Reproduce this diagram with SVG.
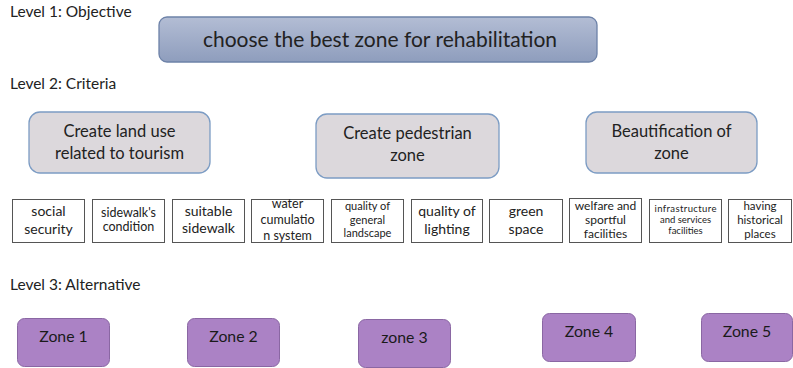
<svg xmlns="http://www.w3.org/2000/svg" width="793" height="368" viewBox="0 0 793 368">
<defs>
<linearGradient id="objGrad" x1="0" y1="0" x2="0" y2="1">
<stop offset="0" stop-color="#b3bdd4"/>
<stop offset="1" stop-color="#8e9dbd"/>
</linearGradient>
<style>
text{font-family:Lato,"Liberation Sans",sans-serif;fill:#222;}
.lvl{font-size:15.5px;}
.obj{fill:url(#objGrad);stroke:#6d82a8;stroke-width:1.3;}
.crit{fill:#dcd8dc;stroke:#7c9cc4;stroke-width:1.3;}
.sub{fill:#fff;stroke:#555;stroke-width:1;}
.zone{fill:#ab82c5;stroke:#8a67a3;stroke-width:1;}
.c{text-anchor:middle;}
.ct{font-size:16.5px;}
.zt{font-size:15.8px;fill:#1a1a1a;}
</style>
</defs>
<text class="lvl" x="10" y="17">Level 1: Objective</text>
<text class="lvl" x="10" y="89">Level 2: Criteria</text>
<text class="lvl" x="10" y="290">Level 3: Alternative</text>

<g id="objective">
<rect class="obj" x="159" y="17" width="438" height="45" rx="8"/>
<text class="c" x="380" y="47" font-size="21">choose the best zone for rehabilitation</text>
</g>

<g id="crit1">
<rect class="crit" x="29" y="112" width="181" height="61" rx="11"/>
<text class="c ct" x="119.5" y="137">Create land use</text>
<text class="c ct" x="119.5" y="159">related to tourism</text>
</g>
<g id="crit2">
<rect class="crit" x="316" y="114" width="183" height="64" rx="11"/>
<text class="c ct" x="407.5" y="139">Create pedestrian</text>
<text class="c ct" x="407.5" y="161">zone</text>
</g>
<g id="crit3">
<rect class="crit" x="586" y="112" width="171" height="61" rx="11"/>
<text class="c ct" x="671.5" y="137">Beautification of</text>
<text class="c ct" x="671.5" y="159">zone</text>
</g>

<g id="sub1">
<rect class="sub" x="12.5" y="199.5" width="72" height="43"/>
<text class="c" x="48.5" y="216" font-size="14">social</text>
<text class="c" x="48.5" y="234" font-size="14">security</text>
</g>
<g id="sub2">
<rect class="sub" x="92.5" y="199.5" width="72" height="43"/>
<text class="c" x="128.5" y="217" font-size="12.5">sidewalk's</text>
<text class="c" x="128.5" y="231" font-size="12.5">condition</text>
</g>
<g id="sub3">
<rect class="sub" x="172.5" y="199.5" width="72" height="43"/>
<text class="c" x="208.5" y="216" font-size="14">suitable</text>
<text class="c" x="208.5" y="233" font-size="14">sidewalk</text>
</g>
<g id="sub4">
<rect class="sub" x="251.5" y="199.5" width="72" height="43"/>
<text class="c" x="287.5" y="208" font-size="12.5">water</text>
<text class="c" x="287.5" y="224" font-size="12.5">cumulatio</text>
<text class="c" x="287.5" y="240" font-size="12.5">n system</text>
</g>
<g id="sub5">
<rect class="sub" x="331.5" y="199.5" width="72" height="43"/>
<text class="c" x="367.5" y="210" font-size="11">quality of</text>
<text class="c" x="367.5" y="224" font-size="11">general</text>
<text class="c" x="367.5" y="237" font-size="11">landscape</text>
</g>
<g id="sub6">
<rect class="sub" x="411.5" y="199.5" width="71" height="43"/>
<text class="c" x="447" y="216" font-size="14">quality of</text>
<text class="c" x="447" y="234" font-size="14">lighting</text>
</g>
<g id="sub7">
<rect class="sub" x="489.5" y="199.5" width="73" height="43"/>
<text class="c" x="526" y="216" font-size="14">green</text>
<text class="c" x="526" y="234" font-size="14">space</text>
</g>
<g id="sub8">
<rect class="sub" x="569.5" y="198.5" width="72" height="44"/>
<text class="c" x="605.5" y="210" font-size="12">welfare and</text>
<text class="c" x="605.5" y="224" font-size="12">sportful</text>
<text class="c" x="605.5" y="238" font-size="12">facilities</text>
</g>
<g id="sub9">
<rect class="sub" x="649.5" y="199.5" width="72" height="43"/>
<text class="c" x="685.5" y="212" font-size="9.5" textLength="62">infrastructure</text>
<text class="c" x="685.5" y="223" font-size="9.5">and services</text>
<text class="c" x="685.5" y="234" font-size="9.5">facilities</text>
</g>
<g id="sub10">
<rect class="sub" x="728.5" y="199.5" width="63" height="43"/>
<text class="c" x="760" y="210" font-size="11.5">having</text>
<text class="c" x="760" y="224" font-size="11.5">historical</text>
<text class="c" x="760" y="238" font-size="11.5">places</text>
</g>

<g id="zone1">
<rect class="zone" x="17.5" y="318.5" width="92" height="48" rx="7"/>
<text class="c zt" x="63.5" y="342">Zone 1</text>
</g>
<g id="zone2">
<rect class="zone" x="187.5" y="318.5" width="92" height="48" rx="7"/>
<text class="c zt" x="233.5" y="342">Zone 2</text>
</g>
<g id="zone3">
<rect class="zone" x="358.5" y="319.5" width="92" height="48" rx="7"/>
<text class="c zt" x="404.5" y="343">zone 3</text>
</g>
<g id="zone4">
<rect class="zone" x="542.5" y="313.5" width="93" height="48" rx="7"/>
<text class="c zt" x="589" y="337">Zone 4</text>
</g>
<g id="zone5">
<rect class="zone" x="701.5" y="313.5" width="91" height="48" rx="7"/>
<text class="c zt" x="747" y="337">Zone 5</text>
</g>
<g id="connectors"/>
</svg>
